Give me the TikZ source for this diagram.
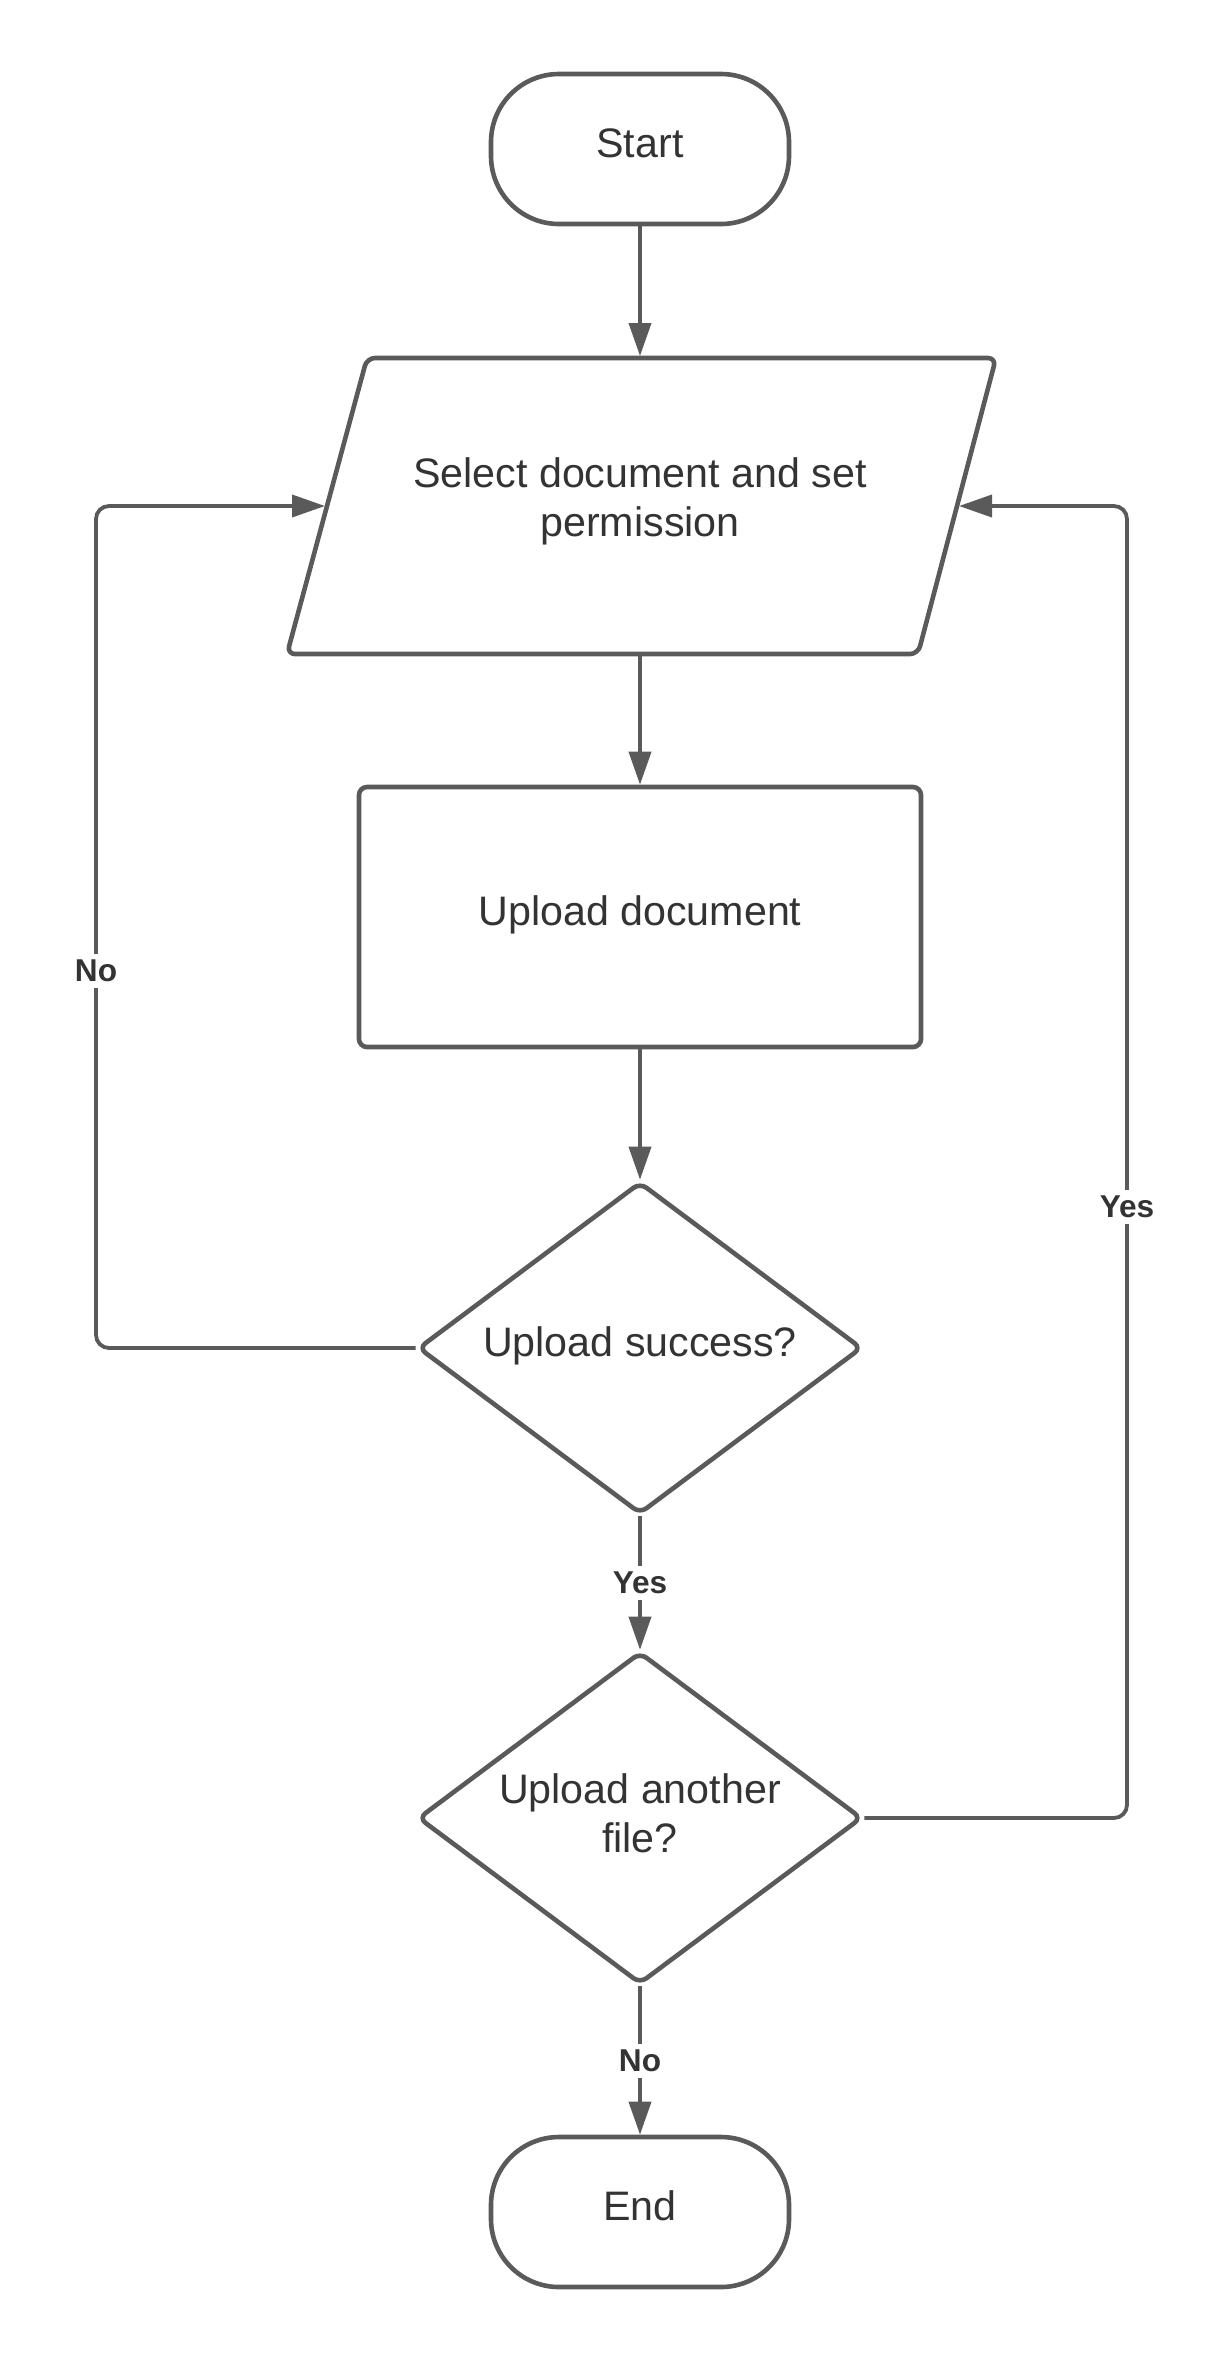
\documentclass[tikz,border=0pt]{standalone}
\usepackage{fontspec}
\setmainfont{Liberation Sans}
\usetikzlibrary{shapes.geometric,arrows.meta}
\definecolor{lncol}{HTML}{5A5A5A}
\definecolor{txcol}{HTML}{333333}
\tikzset{
 shapebase/.style={draw=lncol, line width=2.3pt, fill=white, text=txcol, font=\fontsize{20.6}{24.5}\selectfont, align=center, inner sep=0pt, text height=15pt, text depth=6.4pt},
 term/.style={shapebase, rectangle, rounded corners=34pt, minimum width=149pt, minimum height=75pt},
 iobox/.style={draw=lncol, line width=2.3pt, fill=white, rounded corners=4pt, line join=round},
 iotext/.style={rectangle, text=txcol, font=\fontsize{20.6}{24.5}\selectfont, align=center, inner sep=0pt, outer sep=0pt, minimum width=314pt, minimum height=150pt, text height=39.5pt, text depth=9.5pt},
 proc/.style={shapebase, rectangle, rounded corners=4pt, minimum width=281pt, minimum height=130pt},
 decision/.style={shapebase, diamond, shape aspect=1.33, minimum width=222pt, minimum height=166pt, rounded corners=4pt},
 twoline/.style={text height=39.5pt, text depth=5pt},
 conn/.style={draw=lncol, line width=1.9pt, -{Triangle[length=16.5pt,width=11pt]}, rounded corners=6.5pt},
 lbl/.style={fill=white, text=txcol, font=\bfseries\fontsize{15.8}{18}\selectfont, inner sep=3pt, rounded corners=0pt}
}
\begin{document}
\begin{tikzpicture}[x=0.5pt,y=-0.5pt]
\useasboundingbox (0,0) rectangle (1232,2363);
% parallelogram outline
\draw[iobox] (367,358) -- (996,358) -- (918,654) -- (287,654) -- cycle;
\node[iotext] (para) at (640,506) {Select document and set\\permission};
\coordinate (paraW) at (325,506);
\coordinate (paraE) at (959,506);
\node[term] (start) at (640,149) {Start};
\node[proc] (upl) at (640,917) {Upload document};
\node[decision] (d1) at (640,1348) {Upload success?};
\node[decision, twoline] (d2) at (640,1818) {Upload another\\file?};
\node[term] (end) at (640,2212) {End};
\coordinate (lc) at (96,506);
\coordinate (rc) at (1127,506);
\draw[conn] (start) -- (para);
\draw[conn] (para) -- (upl);
\draw[conn] (upl) -- (d1);
\draw[conn] (d1) -- node[lbl]{Yes} (d2);
\draw[conn] (d2) -- node[lbl]{No} (end);
\draw[conn] (d1.west) -| node[lbl,pos=0.724]{No} (lc) -- (paraW);
\draw[conn] (d2.east) -| node[lbl,pos=0.733]{Yes} (rc) -- (paraE);
\end{tikzpicture}
\end{document}
